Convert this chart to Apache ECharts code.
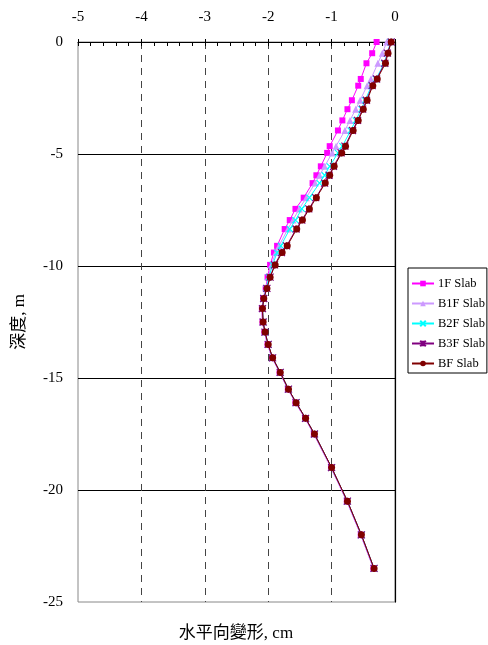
<!DOCTYPE html>
<html>
<head>
<meta charset="utf-8">
<script src="https://cdn.jsdelivr.net/npm/echarts@6/dist/echarts.min.js"></script>
<style>html,body{margin:0;padding:0;background:#fff}#c{width:488px;height:645px}</style>
</head>
<body>
<div id="c"></div>
<script>
// Depth below surface (m), plotted as negative values
const depths = [0, 0.5, 0.95, 1.65, 1.95, 2.6, 3.0, 3.5, 3.95, 4.65, 4.95, 5.55, 5.95, 6.3, 6.95, 7.45, 7.95, 8.35, 9.1, 9.4, 9.95, 10.5, 11.0, 11.45, 11.9, 12.5, 12.95, 13.5, 14.1, 14.75, 15.5, 16.1, 16.8, 17.5, 19.0, 20.5, 22.0, 23.5];
const seriesNames = ['1F Slab', 'B1F Slab', 'B2F Slab', 'B3F Slab', 'BF Slab'];
const f1 = [-0.29, -0.36, -0.45, -0.54, -0.58, -0.68, -0.75, -0.83, -0.90, -1.03, -1.07, -1.17, -1.24, -1.30, -1.44, -1.57, -1.66, -1.74, -1.86, -1.91, -1.97, -2.01, -2.04, -2.08, -2.10, -2.09, -2.06, -2.01, -1.94, -1.82, -1.69, -1.57, -1.42, -1.28, -1.01, -0.76, -0.54, -0.34];
const b1f = [-0.13, -0.20, -0.27, -0.38, -0.44, -0.55, -0.62, -0.71, -0.79, -0.93, -0.99, -1.11, -1.19, -1.26, -1.40, -1.51, -1.61, -1.69, -1.83, -1.88, -1.95, -2.00, -2.03, -2.08, -2.10, -2.09, -2.06, -2.01, -1.94, -1.82, -1.69, -1.57, -1.42, -1.28, -1.01, -0.76, -0.54, -0.34];
const b2f = [-0.07, -0.12, -0.17, -0.30, -0.37, -0.47, -0.53, -0.62, -0.70, -0.83, -0.90, -1.03, -1.11, -1.19, -1.35, -1.47, -1.57, -1.66, -1.80, -1.86, -1.93, -1.99, -2.03, -2.07, -2.09, -2.08, -2.05, -2.00, -1.93, -1.81, -1.68, -1.56, -1.41, -1.27, -1.00, -0.75, -0.53, -0.33];
const b3f = [-0.06, -0.12, -0.16, -0.29, -0.36, -0.45, -0.51, -0.59, -0.67, -0.79, -0.85, -0.97, -1.04, -1.11, -1.25, -1.36, -1.47, -1.56, -1.71, -1.79, -1.90, -1.97, -2.02, -2.07, -2.09, -2.08, -2.05, -2.00, -1.93, -1.81, -1.68, -1.56, -1.41, -1.27, -1.00, -0.75, -0.53, -0.33];
const bf = [-0.06, -0.11, -0.15, -0.28, -0.35, -0.44, -0.50, -0.58, -0.66, -0.78, -0.84, -0.96, -1.03, -1.10, -1.24, -1.35, -1.46, -1.55, -1.70, -1.78, -1.89, -1.97, -2.02, -2.07, -2.09, -2.08, -2.05, -2.00, -1.93, -1.81, -1.68, -1.56, -1.41, -1.27, -1.00, -0.75, -0.53, -0.33];
const xTicks = [-5, -4, -3, -2, -1, 0];
const yTicks = [0, -5, -10, -15, -20, -25];

const serif = '"Liberation Serif", "Times New Roman", serif';
const cjk = '"Liberation Serif", "Noto Sans CJK TC", serif';
const pair = arr => arr.map((v, i) => [v, -depths[i]]);

const styles = [
  {color: '#FF00FF', symbol: 'rect', size: 6, data: f1},
  {color: '#CC99FF', symbol: 'triangle', size: 7, data: b1f},
  {color: '#00FFFF', symbol: 'path://M0,0L10,10M10,0L0,10', size: 6, data: b2f, stroke: true},
  {color: '#800080', symbol: 'path://M0,0L10,10M10,0L0,10M5,0L5,10', size: 7, data: b3f, stroke: true},
  {color: '#800000', symbol: 'circle', size: 7, data: bf}
];

const chart = echarts.init(document.getElementById('c'), null, {renderer: 'canvas'});
chart.setOption({
  animation: false,
  backgroundColor: '#fff',
  grid: {left: 78, right: 93, top: 42, bottom: 43, show: true, borderColor: '#888', borderWidth: 1},
  legend: {
    orient: 'vertical', left: 408, top: 268,
    padding: [9, 2, 3, 3],
    itemGap: 7, itemWidth: 22, itemHeight: 7,
    borderColor: '#000', borderWidth: 1,
    textStyle: {fontFamily: serif, fontSize: 12.5, color: '#000', padding: [0, 0, 0, -1]},
    data: seriesNames
  },
  xAxis: [{
    type: 'value', position: 'top', min: -5, max: 0, interval: 1,
    axisLine: {show: true, lineStyle: {color: '#000', width: 1}},
    axisTick: {show: true, inside: true, length: 4, lineStyle: {color: '#000'}},
    minorTick: {show: true, splitNumber: 5, length: 4, lineStyle: {color: '#000'}},
    axisLabel: {show: true, margin: 17, fontFamily: serif, fontSize: 15, color: '#000',
      formatter: v => xTicks.includes(v) ? String(v) : ''},
    splitLine: {show: true, showMinLine: false, showMaxLine: false, lineStyle: {color: '#444', type: [7, 6], width: 1}}
  }, {
    type: 'value', position: 'top', min: -5, max: 0, interval: 1,
    axisLine: {show: false},
    axisTick: {show: true, inside: false, length: 3, lineStyle: {color: '#000'}},
    axisLabel: {show: false}, splitLine: {show: false}
  }],
  yAxis: [{
    type: 'value', min: -25, max: 0, interval: 5,
    name: '深度, m', nameLocation: 'middle', nameGap: 50, nameRotate: 90,
    nameTextStyle: {fontFamily: cjk, fontSize: 17, color: '#000'},
    axisLine: {show: true, lineStyle: {color: '#888'}},
    axisTick: {show: false},
    axisLabel: {margin: 15, fontFamily: serif, fontSize: 15, color: '#000',
      formatter: v => yTicks.includes(v) ? String(v) : ''},
    splitLine: {show: true, showMinLine: false, showMaxLine: false, lineStyle: {color: '#000', width: 1}}
  }, {
    type: 'value', min: -25, max: 0, interval: 5, position: 'right',
    axisLine: {show: true, lineStyle: {color: '#000', width: 1.2}},
    axisTick: {show: false}, axisLabel: {show: false}, splitLine: {show: false}
  }],
  graphic: [{
    type: 'text', x: 236, y: 634,
    style: {text: '水平向變形, cm', fontFamily: cjk, fontSize: 17, fill: '#000', textAlign: 'center', textVerticalAlign: 'middle'}
  }],
  series: styles.map((s, i) => ({
    name: seriesNames[i], type: 'line',
    data: pair(s.data),
    symbol: s.symbol, symbolSize: s.size,
    lineStyle: {color: s.color, width: 1},
    itemStyle: s.stroke ? {color: s.color, borderColor: s.color, borderWidth: 1.2} : {color: s.color, borderWidth: 0},
    z: 2 + i
  }))
});
</script>
</body>
</html>
